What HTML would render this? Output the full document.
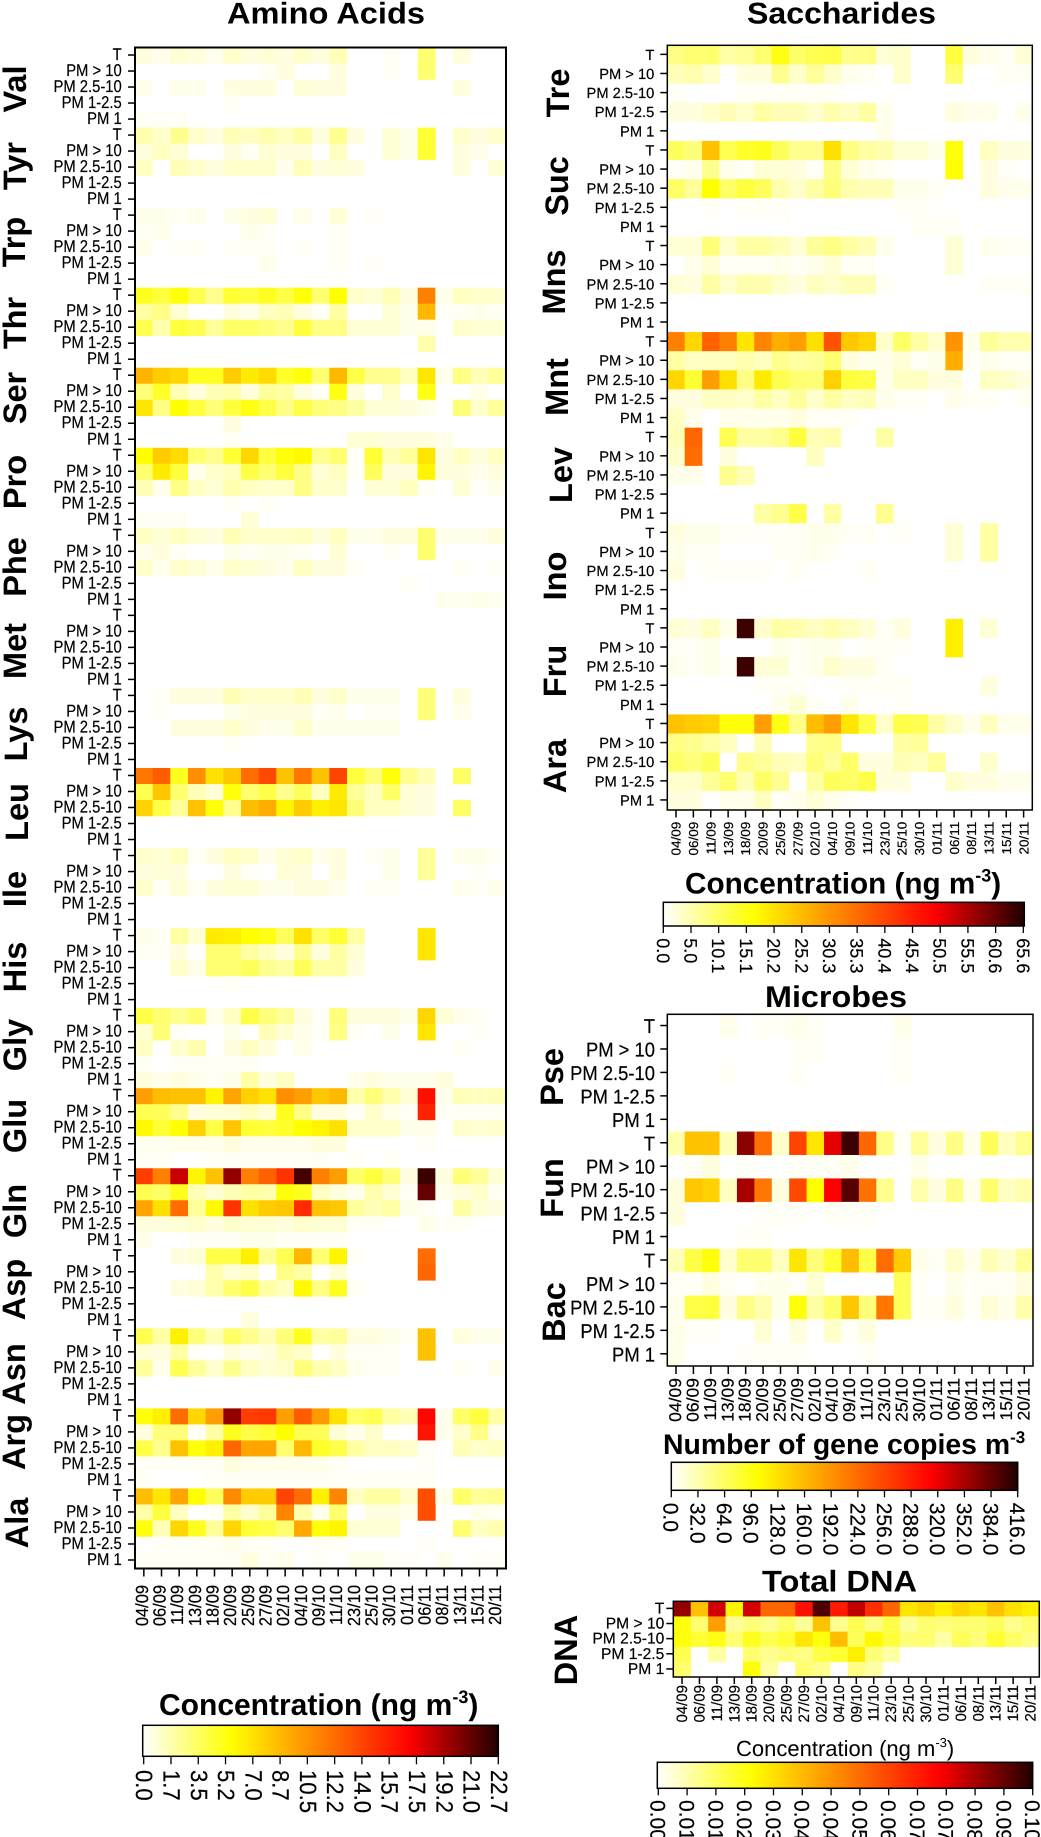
<!DOCTYPE html>
<html lang="en">
<head>
<meta charset="utf-8">
<title>Heatmaps of amino acids, saccharides, microbes and total DNA</title>
<style>
html,body{margin:0;padding:0;background:#fff;}
svg{display:block;font-family:"Liberation Sans",sans-serif;}
text{fill:#000;text-rendering:geometricPrecision;}
.ttl{font-weight:bold;font-size:30px;}
.grp{font-weight:bold;font-size:32.5px;text-anchor:middle;}
</style>
</head>
<body>
<svg id="chart" xmlns="http://www.w3.org/2000/svg" width="1041" height="1837" viewBox="0 0 1041 1837">
<defs>
<linearGradient id="heatRamp" x1="0" x2="1" y1="0" y2="0">
<stop offset="0" stop-color="#ffffff"/><stop offset="0.25" stop-color="#ffff00"/><stop offset="0.5" stop-color="#ff8000"/><stop offset="0.75" stop-color="#ff0000"/><stop offset="1" stop-color="#200000"/>
</linearGradient>
</defs>
<rect width="1041" height="1837" fill="#fff"/>

<text class="ttl" x="227" y="23.5" textLength="198" lengthAdjust="spacingAndGlyphs">Amino Acids</text>
<text class="ttl" x="747" y="23.5" textLength="189" lengthAdjust="spacingAndGlyphs">Saccharides</text>
<text class="ttl" x="765" y="1007" textLength="142" lengthAdjust="spacingAndGlyphs">Microbes</text>
<text class="ttl" x="762" y="1591.5" textLength="155" lengthAdjust="spacingAndGlyphs">Total DNA</text>

<g>
<text class="grp" transform="translate(26,89) rotate(-90)">Val</text>
<text class="grp" transform="translate(26,166) rotate(-90)">Tyr</text>
<text class="grp" transform="translate(25,242) rotate(-90)">Trp</text>
<text class="grp" transform="translate(26,323) rotate(-90)">Thr</text>
<text class="grp" transform="translate(26,398) rotate(-90)">Ser</text>
<text class="grp" transform="translate(26,482) rotate(-90)">Pro</text>
<text class="grp" transform="translate(26,567) rotate(-90)">Phe</text>
<text class="grp" transform="translate(26,651) rotate(-90)">Met</text>
<text class="grp" transform="translate(27,734) rotate(-90)">Lys</text>
<text class="grp" transform="translate(28,812) rotate(-90)">Leu</text>
<text class="grp" transform="translate(26,889) rotate(-90)">Ile</text>
<text class="grp" transform="translate(26,967) rotate(-90)">His</text>
<text class="grp" transform="translate(26,1045) rotate(-90)">Gly</text>
<text class="grp" transform="translate(26,1126) rotate(-90)">Glu</text>
<text class="grp" transform="translate(26,1211) rotate(-90)">Gln</text>
<text class="grp" transform="translate(25,1289.5) rotate(-90)">Asp</text>
<text class="grp" transform="translate(25,1374) rotate(-90)">Asn</text>
<text class="grp" transform="translate(25,1442) rotate(-90)">Arg</text>
<text class="grp" transform="translate(28,1523) rotate(-90)">Ala</text>
</g>
<g>
<text class="grp" transform="translate(569,93) rotate(-90)">Tre</text>
<text class="grp" transform="translate(568,186) rotate(-90)">Suc</text>
<text class="grp" transform="translate(565,282) rotate(-90)">Mns</text>
<text class="grp" transform="translate(568,387) rotate(-90)">Mnt</text>
<text class="grp" transform="translate(572,475) rotate(-90)">Lev</text>
<text class="grp" transform="translate(566,576) rotate(-90)">Ino</text>
<text class="grp" transform="translate(566,671) rotate(-90)">Fru</text>
<text class="grp" transform="translate(566,766) rotate(-90)">Ara</text>
</g>
<g>
<text class="grp" transform="translate(563,1077) rotate(-90)">Pse</text>
<text class="grp" transform="translate(563,1188) rotate(-90)">Fun</text>
<text class="grp" transform="translate(565,1312) rotate(-90)">Bac</text>
</g>
<text class="grp" transform="translate(577,1650) rotate(-90)">DNA</text>

<text x="159" y="1715" font-size="30" font-weight="bold">Concentration (ng m<tspan font-size="18" dy="-12">-3</tspan><tspan dy="12">)</tspan></text>
<text x="685" y="893.3" font-size="29.7" font-weight="bold">Concentration (ng m<tspan font-size="18" dy="-12">-3</tspan><tspan dy="12">)</tspan></text>
<text x="663" y="1454" font-size="28.4" font-weight="bold">Number of gene copies m<tspan font-size="17" dy="-11">-3</tspan></text>
<text x="736" y="1756" font-size="22">Concentration (ng m<tspan font-size="13" dy="-9">-3</tspan><tspan dy="9">)</tspan></text>
</svg>

<script>
// Sampling dates and size fractions shared by every panel
const dates = ["04/09","06/09","11/09","13/09","18/09","20/09","25/09","27/09","02/10","04/10","09/10","11/10","23/10","25/10","30/10","01/11","06/11","08/11","13/11","15/11","20/11"];
const fractions = ["T","PM > 10","PM 2.5-10","PM 1-2.5","PM 1"];

// Colour bar tick labels
const aminoTicks = ["0.0","1.7","3.5","5.2","7.0","8.7","10.5","12.2","14.0","15.7","17.5","19.2","21.0","22.7"];
const sacchTicks = ["0.0","5.0","10.1","15.1","20.2","25.2","30.3","35.3","40.4","45.4","50.5","55.5","60.6","65.6"];
const microbeTicks = ["0.0","32.0","64.0","96.0","128.0","160.0","192.0","224.0","256.0","288.0","320.0","352.0","384.0","416.0"];
const dnaTicks = ["0.00","0.01","0.01","0.02","0.03","0.04","0.04","0.05","0.06","0.07","0.07","0.08","0.09","0.10"];

const val = [
[3,2,4,3,2,5,3,4,3,5,3,7,0,0,1,0,14,0,3,0,0],
[0,0,0,0,0,0,0,1,3,0,0,3,0,0,1,0,14,0,0,0,0],
[2,0,2,2,0,3,3,3,0,4,3,3,0,0,0,0,0,0,3,0,0],
[0,0,0,0,0,1,0,0,0,0,0,0,0,0,0,0,0,0,0,0,0],
[1,1,1,0,0,0,0,0,0,0,0,0,0,0,0,0,0,0,0,0,0]];
const tyr = [
[8,5,11,5,3,7,6,8,6,9,3,11,3,0,4,2,20,0,5,3,5],
[3,6,4,0,0,3,1,4,3,3,0,6,0,0,4,2,20,0,3,2,0],
[6,0,7,5,3,5,5,5,2,7,3,4,3,0,0,0,0,0,3,0,4],
[0,0,0,0,0,0,0,0,0,0,0,0,0,0,0,0,0,0,0,0,0],
[0,0,0,0,0,0,0,0,0,0,0,0,0,0,0,0,0,0,0,0,0]];
const trp = [
[2,2,1,2,0,2,3,4,0,2,0,4,0,1,0,0,0,0,0,0,0],
[1,2,0,0,0,0,2,1,0,0,0,1,0,0,0,0,0,0,0,0,0],
[2,0,1,1,0,1,1,1,0,1,0,1,0,0,0,0,0,0,0,0,0],
[0,0,0,0,0,0,0,2,0,0,0,1,0,1,0,0,0,0,0,0,0],
[0,0,0,0,0,0,0,0,0,0,0,0,0,0,0,0,0,0,0,0,0]];
const thr = [
[22,19,24,17,11,20,19,22,18,24,14,25,5,4,7,3,50,2,6,5,5],
[9,12,4,0,0,3,2,6,7,3,1,9,0,0,4,2,39,1,1,2,1],
[17,8,19,17,10,15,15,13,11,19,12,12,4,4,4,2,2,0,5,4,4],
[0,0,0,0,0,0,0,0,0,0,0,0,0,0,0,0,8,0,0,0,0],
[0,0,0,0,0,0,0,0,0,0,0,0,0,0,0,0,0,0,0,0,0]];
const ser = [
[40,35,33,22,22,35,29,32,21,24,14,39,18,11,11,6,30,2,12,7,10],
[13,21,7,3,7,8,3,10,9,3,1,23,3,0,5,0,23,0,0,2,0],
[30,12,25,19,13,19,23,18,12,18,13,12,9,4,4,3,2,0,13,5,10],
[0,0,0,0,0,3,0,0,0,0,0,0,0,0,0,0,0,0,0,0,0],
[0,0,0,0,0,1,0,0,0,0,0,0,4,4,3,3,3,2,0,0,0]];
const pro = [
[25,35,32,14,11,20,33,19,24,26,11,14,1,20,7,10,30,3,6,3,6],
[14,29,19,2,5,6,18,14,19,12,4,6,1,16,3,3,27,3,3,2,3],
[7,2,12,6,4,8,6,5,5,12,5,5,0,4,4,6,1,0,4,1,2],
[0,0,0,0,0,1,0,1,0,0,0,0,0,0,0,0,0,0,0,0,0],
[1,1,1,0,0,0,4,0,0,0,0,0,0,0,0,0,0,0,0,0,0]];
const phe = [
[6,4,6,4,3,7,5,5,5,6,3,6,2,2,3,3,14,2,2,2,3],
[2,3,1,0,0,2,1,2,2,1,0,4,0,0,1,0,14,0,0,0,0],
[5,2,5,4,2,5,4,3,2,6,3,3,1,0,0,0,0,0,1,0,1],
[0,0,0,0,0,0,0,0,0,0,0,0,0,0,0,1,0,0,0,0,0],
[0,0,0,0,0,0,0,0,0,0,0,0,0,0,0,0,0,1.5,1.5,2,1.5]];
const met = [
[0,0,0,0,0,0,0,0,0,0,0,0,0,0,0,0,0,0,0,0,0],
[0,0,0,0,0,0,0,0,0,0,0,0,0,0,0,0,0,0,0,0,0],
[0,0,0,0,0,0,0,0,0,0,0,0,0,0,0,0,0,0,0,0,0],
[0,0,0,0,0,0,0,0,0,0,0,0,0,0,0,0,0,0,0,0,0],
[0,0,0,0,0,0,0,0,0,0,0,0,0,0,0,0,0,0,0,0,0]];
const lys = [
[0,1,3,3,3,7,5,5,5,7,3,5,2,2,2,0,13,0,3,0,0],
[0,1,0,0,0,2,3,3,3,3,1,2,0,1,1,0,13,0,2,0,0],
[0,0,3,3,3,5,3,2,2,5,2,2,2,2,2,0,0,0,0,0,0],
[0,0,0,0,0,1,0,0,0,0,0,0,0,0,0,0,0,0,0,0,0],
[0,0,0,0,0,0,0,0,0,0,0,0,0,0,0,0,0,0,0,0,0]];
const leu = [
[52,57,22,47,31,36,54,61,37,52,37,62,19,13,24,11,7,0,15,0,0],
[17,36,14,7,4,24,14,18,11,16,6,29,10,6,15,4,3,0,0,0,0],
[34,18,10,37,24,11,38,41,27,35,28,30,13,6,6,4,3,0,15,0,0],
[0,0,0,0,0,0,0,0,0,0,0,0,0,0,0,0,0,0,0,0,0],
[0,0,0,0,0,0,0,0,0,0,0,0,0,0,0,0,0,0,0,0,0]];
const ile = [
[5,4,6,1,3,6,5,2,4,5,2,3,0,1,2,0,10,0,2,2,1],
[3,4,3,0,0,3,1,0,4,3,0,3,0,0,2,0,10,0,0,1,0],
[5,1,4,1,3,4,4,2,2,3,3,2,0,1,1,0,0,0,2,1,2],
[0,0,0,0,0,0,0,0,0,0,0,0,0,0,0,0,0,0,0,0,0],
[0,0,0,0,0,0,0,0,0,0,0,0,0,0,0,0,0,0,0,0,0]];
const his = [
[2,1,9,4,29,28,25,23,16,31,15,20,9,0,0,0,30,0,0,0,0],
[1,1,3,0,14,14,9,6,3,11,3,9,4,0,0,0,30,0,0,0,0],
[0,0,5,2,14,14,16,11,9,16,9,9,3,0,0,0,0,0,0,0,0],
[0,0,0,0,0,1,0,0,0,0,0,0,0,0,0,0,0,0,0,0,0],
[0,0,0,0,0,0,0,0,0,0,0,0,0,0,0,0,0,0,0,0,0]];
const gly = [
[18,14,11,14,2,6,18,13,10,3,1,13,3,3,3,2,33,4,2,1,0],
[4,13,1,0,0,2,0,7,4,2,1,12,1,0,2,0,30,0,0,1,0],
[6,0,5,8,0,3,6,3,0,2,0,0,0,0,0,0,0,0,1,0,0],
[1,0,1,1,1,1,1,0,0,0,0,0,0,0,0,0,0,0,0,0,0],
[3,2,3,2,1,2,9,3,6,0,0,0,2,3,2,2,2,3,0,0,0]];
const glu = [
[44,38,37,37,27,43,34,31,47,44,36,39,8,13,8,4,72,2,7,6,7],
[17,16,11,3,4,4,6,4,22,12,3,3,1,5,2,1,68,1,1,1,1],
[26,20,25,34,18,36,20,19,21,25,27,31,5,5,5,2,2,0,5,4,5],
[1.5,1.5,2,2,2,3,2,2,2,2,3,3,0,0,0,0,1,0,0,0,0],
[1,1,0,0,1,1,1,1,1,1,1,0,1,0,1,0,0,0,0,0,0]];
const gln = [
[63,50,81,27,37,87,50,56,65,96,50,44,15,19,13,3,97,3,13,10,4],
[17,15,22,7,4,7,9,8,24,22,6,3,2,8,4,1,92,2,3,5,1],
[43,31,54,10,26,65,31,35,36,67,37,36,10,7,9,2,1,0,9,4,3],
[3,3,4,5,3,5,4,4,3,5,4,4,1,1,0,0,2,1,1,0,0],
[2,0,0,1,1,1,2,2,1,1,1,1,0,0,0,0,0,0,0,0,0]];
const asp = [
[0,0,3,4,18,18,28,10,17,39,14,27,1,0,0,0,54,0,0,0,0],
[0,0,0,0,8,4,5,0,12,9,0,4,0,0,0,0,55,0,0,0,0],
[0,0,3,4,8,14,18,9,6,26,12,22,1,0,0,0,0,0,0,0,0],
[0,0,0,0,0,0,0,0,0,0,0,0,0,0,0,0,0,0,0,0,0],
[0,0,0,0,0,0,3,0,0,0,0,0,0,0,0,0,0,0,0,0,0]];
const asn = [
[17,9,28,13,7,15,11,7,13,22,9,10,3,3,2,1,37,0,3,2,2],
[4,3,9,1,0,3,2,3,7,5,0,3,1,1,1,0,37,0,0,0,0],
[10,2,17,10,5,11,6,4,5,13,8,6,2,1,1,0,0,0,1,0,2],
[0,0,0,0,0,0,0,0,0,0,0,0,0,0,0,0,0,0,0,0,0],
[0,0,0,0,0,0,0,0,0,0,0,0,0,0,0,0,0,0,0,0,0]];
const arg = [
[24,28,54,33,44,87,63,64,44,57,45,31,15,17,9,7,74,2,15,19,9],
[3,13,13,1,9,22,18,20,25,17,16,4,2,5,0,0,71,2,5,12,2],
[18,11,37,24,28,55,43,43,14,39,21,18,9,6,6,5,1,0,7,5,6],
[1,1,1,1,1,3,2,2,2,2,2,1,0,0,0,0,1,0,0,0,0],
[1,0,0,0,1,1,1,1,1,1,1,1,1,1,1,1,1,0,0,0,0]];
const ala = [
[38,30,43,25,16,48,35,35,62,54,28,49,6,9,9,5,60,2,15,10,11],
[9,19,6,0,1,9,5,10,49,8,2,14,0,3,3,2,60,0,0,2,1],
[24,7,33,22,10,33,20,18,14,42,24,27,4,4,4,0,0,0,14,6,8],
[0,1,1,1,1,2,1,1,0,0,1,1,0,0,0,0,1,0,0,0,0],
[1,1,1,1,1,1,3,1,2,0,1,0,2,2,1,1,0,2,0,1,1]];

const tre = [
[12,14,14,9,10,14,23,15,17,18,11,12,4,5,0,0,19,3,2,1,4],
[7,8,5,0,3,3,11,5,10,5,2,1,0,5,0,0,14,0,0,1,1],
[1,0,0,0,1,1,1,1,1,1,0,0,0,0,0,0,0,0,0,0,0],
[3,3,5,7,5,9,7,7,5,8,6,9,2,0,0,0,3,2,2,0,2],
[0,0,0,0,0,0,0,0,0,0,0,0,2,0,0,0,0,0,0,0,0]];
const suc = [
[16,13,37,17,21,22,16,11,11,31,12,9,8,4,4,2,24,0,6,3,3],
[1,2,11,2,1,4,4,3,1,12,4,2,1,0,0,0,25,0,3,1,0],
[15,10,25,15,19,16,8,5,9,13,8,7,7,2,2,1,0,0,3,2,2],
[0,0,1,0,1,1,1,0,0,0,0,0,0,1,1,0,0,0,0,0,0],
[0,0,0,0,0,0,0,0,0,0,0,0,0,0,1,1,1,0,0,0,0]];
const mns = [
[4,4,13,5,9,9,7,4,10,12,9,7,2,0,0,0,4,0,2,1,1],
[0,2,4,1,1,1,2,1,2,4,1,1,0,0,0,0,4,0,0,0,0],
[4,3,9,5,8,8,5,3,6,5,7,7,1,0,0,0,0,0,1,1,1],
[0,0,0,0,0,0,0,0,0,0,0,0,0,0,0,0,0,0,0,0,0],
[0,0,0,0,0,0,0,0,0,0,0,0,0,0,0,0,0,0,0,0,0]];
const mnt = [
[50,33,56,50,30,49,41,44,31,59,36,33,5,15,9,5,46,2,10,8,8],
[9,6,6,6,8,6,11,9,10,14,3,2,2,4,1,2,41,1,2,1,1],
[33,20,44,31,12,29,17,14,13,34,19,18,2,6,6,3,3,0,6,5,3],
[3,3,6,6,5,9,6,10,5,9,6,7,2,1,1,0,2,1,1,0,1],
[6,2,0,2,2,2,2,3,1,1,1,0,0,0,0,0,0,0,0,0,0]];
const lev = [
[7,55,0,17,9,9,11,19,7,8,0,0,9,0,0,0,0,0,0,0,0],
[5,54,0,3,0,0,0,0,6,0,0,0,0,0,0,0,0,0,0,0,0],
[2,2,0,11,7,0,0,0,0,0,0,0,0,0,0,0,0,0,0,0,0],
[0,0,0,0,0,0,0,0,0,0,0,0,0,0,0,0,0,0,0,0,0],
[0,0,0,0,0,9,11,18,0,9,0,0,11,0,0,0,0,0,0,0,0]];
const ino = [
[3,2,2,1,1,1,1,1,2,2,1,1,0,1,0,0,4,0,9,0,0],
[2,1,1,0,0,0,1,1,2,1,0,0,0,0,0,0,4,0,9,0,0],
[3,0,1,1,1,1,0,1,0,0,0,1,0,0,0,0,0,0,0,0,0],
[0,0,0,0,0,0,0,0,0,0,0,0,0,0,0,0,0,0,0,0,0],
[0,0,0,0,0,0,0,0,0,0,0,0,0,0,0,0,0,0,0,0,0]];
const fru = [
[4,3,6,2,97,5,9,8,6,8,6,4,1,3,0,0,28,0,4,0,0],
[1,1,2,0,0,0,2,1,2,2,0,1,1,1,0,0,28,0,0,0,0],
[2,1,2,1,97,4,4,1,2,5,3,3,1,0,0,0,0,0,0,0,0],
[0,0,0,0,0,1,1,1,0,0,1,1,1,1,0,0,0,0,3,0,0],
[0,0,0,0,0,0,2,4,1,0,2,0,0,1,0,0,0,0,0,0,0]];
const ara = [
[37,35,34,24,24,44,23,12,38,44,30,18,5,18,17,9,5,2,6,2,2],
[12,11,9,6,0,7,0,0,11,12,0,0,0,9,10,0,0,0,0,0,0],
[15,13,16,0,12,10,7,6,13,10,15,3,3,7,6,10,0,0,5,0,0],
[5,5,10,14,7,15,11,0,9,16,15,18,3,3,0,0,5,3,3,2,2],
[3,3,0,2,2,6,1,2,4,2,1,0,0,0,0,0,0,0,0,0,0]];

const pse = [
[0,0,0,2,0,1,1,2,1,0,0,0,0,2,0,0,0,0,0,0,0],
[0,0,0,0,0,0,0,1,1,0,0,0,0,1,0,0,0,0,0,0,0],
[0,0,0,1,0,0,0,1,0,0,0,0,0,1,0,0,0,0,0,0,0],
[0,0,0,0,0,0,0,0,0,0,0,0,0,0,0,0,0,0,0,0,0],
[0,0,0,0,0,0,0,0,0,0,0,0,0,0,0,0,0,0,0,0,0]];
const fun = [
[8,37,37,7,88,54,5,62,30,78,97,55,12,1,10,3,12,2,16,6,11],
[0,1,3,0,1,0,0,1,1,1,2,0,0,0,2,0,0,0,0,0,0],
[3,36,34,6,85,52,3,61,25,75,94,53,11,0,8,3,12,2,14,6,8],
[3,0,0,0,0,1,1,1,0,1,1,1,0,0,0,0,0,0,0,0,0],
[0,0,0,0,1,1,0,0,0,0,0,0,0,0,0,0,0,0,0,0,0]];
const bac = [
[7,18,24,5,14,14,6,30,13,20,38,18,54,35,2,1,5,2,7,4,10],
[1,1,3,1,0,2,2,1,4,0,0,0,0,16,1,0,2,1,1,1,3],
[2,18,19,3,12,8,2,24,9,15,36,13,52,16,1,1,3,1,4,2,8],
[2,1,1,0,0,4,0,3,0,5,1,3,0,0,0,0,0,0,0,0,0],
[2,0,0,0,1,1,1,1,0,0,0,1,0,0,0,0,0,0,0,0,0]];

const dna = [
[87,37,80,27,80,55,55,72,95,70,82,66,55,30,33,28,33,30,37,31,28],
[24,14,44,10,13,11,15,10,37,11,17,12,18,10,14,13,14,14,16,11,14],
[24,20,23,14,22,17,20,30,24,38,16,26,19,13,14,9,16,13,20,15,12],
[17,0,9,0,14,11,13,12,18,20,28,13,9,0,0,0,0,0,0,0,0],
[14,0,0,0,24,9,0,14,11,0,12,9,0,0,0,0,0,0,0,0,0]];

const aminoGroups = [val,tyr,trp,thr,ser,pro,phe,met,lys,leu,ile,his,gly,glu,gln,asp,asn,arg,ala];
const sacchGroups = [tre,suc,mns,mnt,lev,ino,fru,ara];
const microbeGroups = [pse,fun,bac];
const dnaGroups = [dna];

const SVGNS = "http://www.w3.org/2000/svg";
const root = document.getElementById("chart");

function shape(parent, tag, attrs){
  const el = document.createElementNS(SVGNS, tag);
  for (const k in attrs) el.setAttribute(k, attrs[k]);
  parent.appendChild(el);
  return el;
}
function label(parent, str, x, y, size, opts){
  const o = opts || {};
  const el = shape(parent, "text", {
    transform: "translate(" + x + "," + y + ") rotate(" + (o.rot || 0) + ") scale(" + (o.sx || 1) + ",1)",
    "font-size": size,
    "text-anchor": o.anchor || "start",
    stroke: "#000",
    "stroke-width": 0.2
  });
  el.textContent = str;
  return el;
}
// value (% of colour bar) to ramp colour
function heatColor(v){
  const ramp = [[255,255,255],[255,255,0],[255,128,0],[255,0,0],[32,0,0]];
  const t = Math.max(0, Math.min(100, v)) / 25;
  const i = Math.min(3, Math.floor(t));
  const f = t - i;
  const c = ramp[i].map(function(a, k){ return Math.round(a + (ramp[i+1][k] - a) * f); });
  return "rgb(" + c.join(",") + ")";
}

function drawPanel(id, groups, p){
  const g = shape(root, "g", {});
  
  
  const nRows = groups.length * fractions.length;
  const xScale = function(i){ return p.x0 + (p.x1 - p.x0) * i / dates.length; };
  const yScale = function(j){ return p.y0 + (p.y1 - p.y0) * j / nRows; };
  const cw = (p.x1 - p.x0) / dates.length;
  const ch = (p.y1 - p.y0) / nRows;

  groups.forEach(function(group, gi){
    group.forEach(function(row, ri){
      const j = gi * fractions.length + ri;
      row.forEach(function(v, i){
        if (v <= 0) return;
        const cell = shape(g, "rect", {x: xScale(i), y: yScale(j), width: cw + 0.3, height: ch + 0.3, fill: heatColor(v)});
        
        
      });
      const cy = yScale(j) + ch / 2;
      const tick = shape(g, "line", {x1: p.x0 - p.ytick, x2: p.x0, y1: cy - 0.5, y2: cy - 0.5, stroke: "#000", "stroke-width": 1.5});
      
      
      const yl = label(g, fractions[ri], p.yLabelX, cy + p.yLabelDy, p.yFont, {anchor: "end", sx: p.ySx});
      
      
    });
  });

  dates.forEach(function(d, i){
    const cx = xScale(i) + cw / 2;
    const tick = shape(g, "line", {x1: cx, x2: cx, y1: p.y1, y2: p.y1 + p.xtick, stroke: "#000", "stroke-width": 1.5});
    
    
    const xl = label(g, d, cx + p.xLabelDx, p.xLabelTop, p.xFont, {anchor: "end", rot: -90, sx: p.xSx});
    
    
  });

  const frame = shape(g, "rect", {x: p.x0, y: p.y0, width: p.x1 - p.x0, height: p.y1 - p.y0, fill: "none", stroke: "#000", "stroke-width": p.frame});
  
  
}

function drawColorbar(id, ticks, b){
  const g = shape(root, "g", {});
  
  
  const bar = shape(g, "rect", {x: b.x0, y: b.y0, width: b.x1 - b.x0, height: b.y1 - b.y0, fill: "url(#heatRamp)", stroke: "#000", "stroke-width": 1.5});
  
  
  ticks.forEach(function(t, i){
    const x = b.t0 + (b.t1 - b.t0) * i / (ticks.length - 1);
    const tick = shape(g, "line", {x1: x, x2: x, y1: b.y1, y2: b.y1 + b.len, stroke: "#000", "stroke-width": 1.3});
    
    
    const tl = label(g, t, x - b.font * 0.36 + (b.dx || 0), b.top, b.font, {rot: 90, sx: b.sx || 1});
    
    
  });
}

drawPanel("amino-acids", aminoGroups, {x0:135,x1:506,y0:47.5,y1:1568.5,ytick:7,yLabelX:121.7,yLabelDy:4.5,yFont:17,ySx:0.87,xtick:8,xLabelDx:4,xLabelTop:1585,xFont:17.5,xSx:0.94,frame:2});
drawPanel("saccharides", sacchGroups, {x0:667.3,x1:1032.3,y0:45.3,y1:810,ytick:7,yLabelX:654.3,yLabelDy:5,yFont:14.7,ySx:1,xtick:7.5,xLabelDx:4.7,xLabelTop:821.7,xFont:13,xSx:1.04,frame:1.5});
drawPanel("microbes", microbeGroups, {x0:667.3,x1:1033,y0:1014.3,y1:1366,ytick:7,yLabelX:655,yLabelDy:7,yFont:20,ySx:0.92,xtick:8,xLabelDx:5,xLabelTop:1378,xFont:17,xSx:1.03,frame:1.5});
drawPanel("total-dna", dnaGroups, {x0:673.3,x1:1039.3,y0:1601.3,y1:1677,ytick:7,yLabelX:664.3,yLabelDy:4.5,yFont:15.6,ySx:1,xtick:7,xLabelDx:5,xLabelTop:1685,xFont:15,xSx:1,frame:1.5});

drawColorbar("amino", aminoTicks, {x0:142.7,x1:498.3,y0:1725.3,y1:1756.3,t0:143.7,t1:498.3,len:8,top:1770,font:23.5,sx:0.94,dx:1});
drawColorbar("saccharide", sacchTicks, {x0:663.3,x1:1024.3,y0:902.3,y1:926,t0:663.3,t1:1023.3,len:7,top:938.3,font:18});
drawColorbar("microbe", microbeTicks, {x0:671.3,x1:1017.7,y0:1462.3,y1:1490.3,t0:671.3,t1:1017.7,len:7,top:1502.7,font:21});
drawColorbar("dna", dnaTicks, {x0:657.3,x1:1032.7,y0:1762.3,y1:1788.3,t0:658.3,t1:1032.7,len:7,top:1800,font:21});
</script>
</body>
</html>
